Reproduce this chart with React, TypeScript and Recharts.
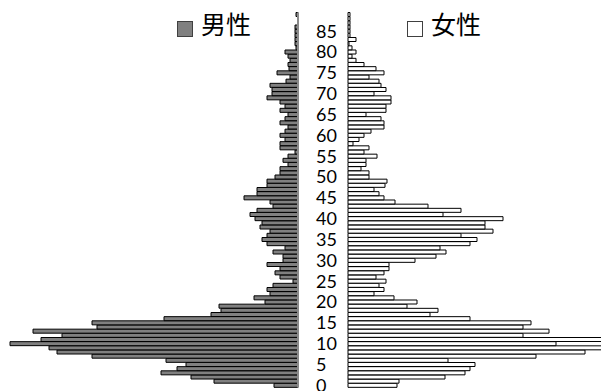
import { Bar, BarChart, ReferenceLine, XAxis, YAxis } from "recharts";

// ages 0..89, one row per year
const ages = Array.from({ length: 90 }, (_, i) => i);

const maleValues = [
  24, 84, 107, 137, 121, 112, 132, 206, 241, 249,
  288, 257, 236, 265, 201, 206, 134, 87, 77, 79,
  33, 44, 28, 31, 25, 5, 18, 23, 18, 31,
  15, 15, 25, 13, 31, 36, 31, 28, 38, 36,
  43, 48, 41, 25, 28, 54, 41, 41, 31, 31,
  23, 18, 18, 10, 15, 10, 3, 18, 18, 13,
  18, 13, 10, 18, 13, 10, 18, 13, 18, 31,
  26, 26, 28, 12, 8, 21, 9, 10, 8, 10,
  13, 2, 3, 3, 3, 3, 3, 0, 0, 2,
];

const femaleValues = [
  49, 51, 97, 117, 122, 127, 100, 188, 237, 268,
  208, 262, 175, 201, 175, 183, 122, 82, 90, 59,
  69, 46, 26, 36, 31, 38, 28, 36, 41, 41,
  67, 88, 98, 92, 122, 129, 113, 145, 137, 137,
  155, 95, 113, 80, 47, 36, 31, 26, 37, 39,
  21, 21, 13, 18, 18, 29, 16, 21, 5, 11,
  16, 23, 36, 36, 33, 18, 38, 38, 43, 43,
  26, 38, 33, 31, 21, 36, 28, 16, 8, 4,
  8, 4, 1, 8, 2, 2, 2, 2, 2, 2,
];

const tickAges = [0, 5, 10, 15, 20, 25, 30, 35, 40, 45, 50, 55, 60, 65, 70, 75, 80, 85];

const rows = ages.map((age, i) => ({
  age,
  male: maleValues[i],
  female: femaleValues[i],
}));

const MAX = 290;

export default function App() {
  return (
    <div
      style={{
        position: "absolute",
        left: 0,
        top: 0,
        width: 601,
        height: 391,
        overflow: "hidden",
        background: "#fff",
      }}
    >
      <div style={{ position: "absolute", left: 0, top: 0 }}>
        <BarChart
          layout="vertical"
          width={343}
          height={391}
          data={rows}
          margin={{ top: 12.5, bottom: 3.5, left: 8, right: 0 }}
          barCategoryGap={0}
        >
          <XAxis type="number" domain={[0, MAX]} reversed hide />
          <YAxis
            type="category"
            dataKey="age"
            reversed
            orientation="right"
            width={45}
            ticks={tickAges}
            interval={0}
            tickSize={0}
            tickMargin={18}
            axisLine={false}
            tickLine={false}
            tick={{ fontFamily: "Lato", fontSize: 18, fill: "#000", textAnchor: "start" }}
          />
          <Bar dataKey="male" fill="#808080" stroke="#000" strokeWidth={1} isAnimationActive={false} />
          <ReferenceLine x={0} stroke="#8a8a8a" strokeWidth={2} />
        </BarChart>
      </div>

      <div style={{ position: "absolute", left: 0, top: 0 }}>
        <BarChart
          layout="vertical"
          width={640}
          height={391}
          data={rows}
          margin={{ top: 12.5, bottom: 3.5, left: 348, right: 2 }}
          barCategoryGap={0}
        >
          <XAxis type="number" domain={[0, MAX]} hide />
          <YAxis type="category" dataKey="age" reversed hide />
          <Bar dataKey="female" fill="#fff" stroke="#000" strokeWidth={1} isAnimationActive={false} />
        </BarChart>
      </div>

      <LegendItem left={177} fill="#808080" border="#404040" label="男性" />
      <LegendItem left={407} fill="#fff" border="#404040" label="女性" />
    </div>
  );
}

function LegendItem({ left, fill, border, label }: { left: number; fill: string; border: string; label: string }) {
  return (
    <>
      <div
        style={{
          position: "absolute",
          left,
          top: 21,
          width: 14,
          height: 14,
          background: fill,
          border: `1px solid ${border}`,
        }}
      />
      <div
        style={{
          position: "absolute",
          left: left + 24,
          top: 11,
          fontFamily: "'Noto Sans CJK JP', sans-serif",
          fontSize: 25,
          lineHeight: "25px",
          color: "#000",
          whiteSpace: "nowrap",
        }}
      >
        {label}
      </div>
    </>
  );
}
